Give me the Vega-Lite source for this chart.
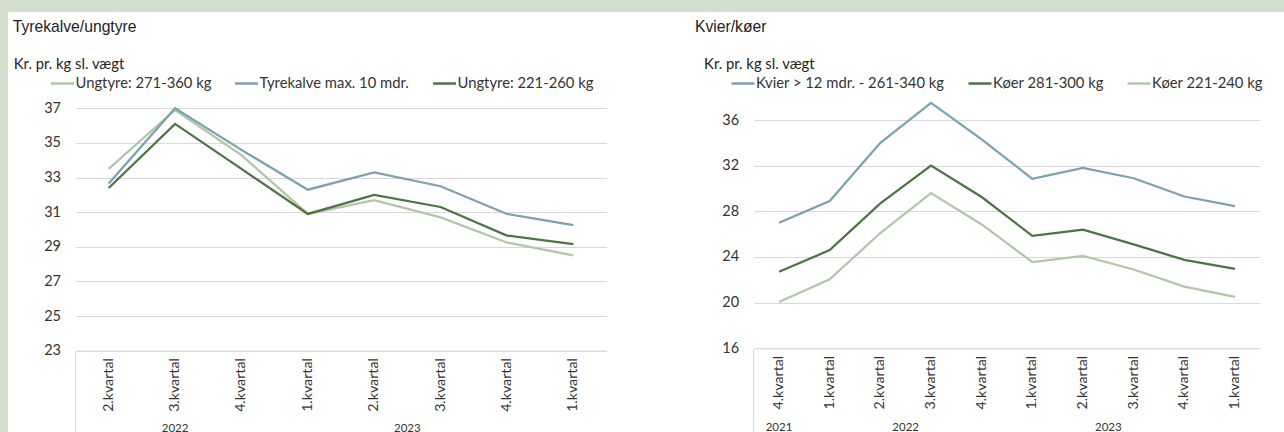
{
  "$schema": "https://vega.github.io/schema/vega-lite/v6.json",
  "background": "#d2dfcd",
  "padding": {"left": 8, "top": 12, "right": 0, "bottom": 0},
  "bounds": "flush",
  "spacing": 0,
  "resolve": {"scale": {"color": "independent"}, "legend": {"color": "independent"}},
  "config": {
    "view": {"fill": "white", "stroke": null},
    "font": "Lato",
    "axis": {"labelFont": "Lato", "titleFont": "Lato"},
    "legend": {"labelFont": "Lato"},
    "text": {"font": "Lato"}
  },
  "datasets": {
    "left": [
      {"serie": "Ungtyre: 271-360 kg", "periode": "2.kvartal 2022", "pris": 33.5},
      {"serie": "Ungtyre: 271-360 kg", "periode": "3.kvartal 2022", "pris": 36.9},
      {"serie": "Ungtyre: 271-360 kg", "periode": "4.kvartal 2022", "pris": 34.3},
      {"serie": "Ungtyre: 271-360 kg", "periode": "1.kvartal 2023", "pris": 30.9},
      {"serie": "Ungtyre: 271-360 kg", "periode": "2.kvartal 2023", "pris": 31.7},
      {"serie": "Ungtyre: 271-360 kg", "periode": "3.kvartal 2023", "pris": 30.7},
      {"serie": "Ungtyre: 271-360 kg", "periode": "4.kvartal 2023", "pris": 29.25},
      {"serie": "Ungtyre: 271-360 kg", "periode": "1.kvartal 2024", "pris": 28.5},
      {"serie": "Tyrekalve max. 10 mdr.", "periode": "2.kvartal 2022", "pris": 32.65},
      {"serie": "Tyrekalve max. 10 mdr.", "periode": "3.kvartal 2022", "pris": 37.0},
      {"serie": "Tyrekalve max. 10 mdr.", "periode": "4.kvartal 2022", "pris": 34.6},
      {"serie": "Tyrekalve max. 10 mdr.", "periode": "1.kvartal 2023", "pris": 32.3},
      {"serie": "Tyrekalve max. 10 mdr.", "periode": "2.kvartal 2023", "pris": 33.3},
      {"serie": "Tyrekalve max. 10 mdr.", "periode": "3.kvartal 2023", "pris": 32.5},
      {"serie": "Tyrekalve max. 10 mdr.", "periode": "4.kvartal 2023", "pris": 30.9},
      {"serie": "Tyrekalve max. 10 mdr.", "periode": "1.kvartal 2024", "pris": 30.25},
      {"serie": "Ungtyre: 221-260 kg", "periode": "2.kvartal 2022", "pris": 32.4},
      {"serie": "Ungtyre: 221-260 kg", "periode": "3.kvartal 2022", "pris": 36.1},
      {"serie": "Ungtyre: 221-260 kg", "periode": "4.kvartal 2022", "pris": 33.5},
      {"serie": "Ungtyre: 221-260 kg", "periode": "1.kvartal 2023", "pris": 30.9},
      {"serie": "Ungtyre: 221-260 kg", "periode": "2.kvartal 2023", "pris": 32.0},
      {"serie": "Ungtyre: 221-260 kg", "periode": "3.kvartal 2023", "pris": 31.3},
      {"serie": "Ungtyre: 221-260 kg", "periode": "4.kvartal 2023", "pris": 29.65},
      {"serie": "Ungtyre: 221-260 kg", "periode": "1.kvartal 2024", "pris": 29.15}
    ],
    "leftYears": [
      {"year": "2022", "at": "3.kvartal 2022", "n": 3},
      {"year": "2023", "at": "3.kvartal 2023", "n": 4}
    ],
    "right": [
      {"serie": "Kvier > 12 mdr. - 261-340 kg", "periode": "4.kvartal 2021", "pris": 27.0},
      {"serie": "Kvier > 12 mdr. - 261-340 kg", "periode": "1.kvartal 2022", "pris": 28.9},
      {"serie": "Kvier > 12 mdr. - 261-340 kg", "periode": "2.kvartal 2022", "pris": 34.0},
      {"serie": "Kvier > 12 mdr. - 261-340 kg", "periode": "3.kvartal 2022", "pris": 37.5},
      {"serie": "Kvier > 12 mdr. - 261-340 kg", "periode": "4.kvartal 2022", "pris": 34.3},
      {"serie": "Kvier > 12 mdr. - 261-340 kg", "periode": "1.kvartal 2023", "pris": 30.85},
      {"serie": "Kvier > 12 mdr. - 261-340 kg", "periode": "2.kvartal 2023", "pris": 31.8},
      {"serie": "Kvier > 12 mdr. - 261-340 kg", "periode": "3.kvartal 2023", "pris": 30.9},
      {"serie": "Kvier > 12 mdr. - 261-340 kg", "periode": "4.kvartal 2023", "pris": 29.3},
      {"serie": "Kvier > 12 mdr. - 261-340 kg", "periode": "1.kvartal 2024", "pris": 28.45},
      {"serie": "Køer 281-300 kg", "periode": "4.kvartal 2021", "pris": 22.7},
      {"serie": "Køer 281-300 kg", "periode": "1.kvartal 2022", "pris": 24.6},
      {"serie": "Køer 281-300 kg", "periode": "2.kvartal 2022", "pris": 28.7},
      {"serie": "Køer 281-300 kg", "periode": "3.kvartal 2022", "pris": 32.0},
      {"serie": "Køer 281-300 kg", "periode": "4.kvartal 2022", "pris": 29.25},
      {"serie": "Køer 281-300 kg", "periode": "1.kvartal 2023", "pris": 25.85},
      {"serie": "Køer 281-300 kg", "periode": "2.kvartal 2023", "pris": 26.4},
      {"serie": "Køer 281-300 kg", "periode": "3.kvartal 2023", "pris": 25.1},
      {"serie": "Køer 281-300 kg", "periode": "4.kvartal 2023", "pris": 23.75},
      {"serie": "Køer 281-300 kg", "periode": "1.kvartal 2024", "pris": 22.95},
      {"serie": "Køer 221-240 kg", "periode": "4.kvartal 2021", "pris": 20.05},
      {"serie": "Køer 221-240 kg", "periode": "1.kvartal 2022", "pris": 22.05},
      {"serie": "Køer 221-240 kg", "periode": "2.kvartal 2022", "pris": 26.1},
      {"serie": "Køer 221-240 kg", "periode": "3.kvartal 2022", "pris": 29.6},
      {"serie": "Køer 221-240 kg", "periode": "4.kvartal 2022", "pris": 26.85},
      {"serie": "Køer 221-240 kg", "periode": "1.kvartal 2023", "pris": 23.55},
      {"serie": "Køer 221-240 kg", "periode": "2.kvartal 2023", "pris": 24.1},
      {"serie": "Køer 221-240 kg", "periode": "3.kvartal 2023", "pris": 22.9},
      {"serie": "Køer 221-240 kg", "periode": "4.kvartal 2023", "pris": 21.4},
      {"serie": "Køer 221-240 kg", "periode": "1.kvartal 2024", "pris": 20.5}
    ],
    "rightYears": [
      {"year": "2021", "at": "4.kvartal 2021", "n": 1},
      {"year": "2022", "at": "3.kvartal 2022", "n": 4},
      {"year": "2023", "at": "3.kvartal 2023", "n": 4}
    ]
  },
  "hconcat": [
    {
      "width": 652,
      "height": 420,
      "title": {"text": "Tyrekalve/ungtyre", "anchor": "start", "frame": "group", "dx": 4.7, "offset": -24, "font": "Liberation Sans", "fontSize": 15.7, "fontWeight": "normal", "color": "#222222"},
      "layer": [
        {
          "data": {"name": "left"},
          "mark": {"type": "line", "strokeWidth": 2.25},
          "encoding": {
            "x": {
              "field": "periode", "type": "nominal", "bandPosition": 0.5,
              "sort": ["2.kvartal 2022", "3.kvartal 2022", "4.kvartal 2022", "1.kvartal 2023", "2.kvartal 2023", "3.kvartal 2023", "4.kvartal 2023", "1.kvartal 2024"],
              "scale": {"type": "band", "domain": ["2.kvartal 2022", "3.kvartal 2022", "4.kvartal 2022", "1.kvartal 2023", "2.kvartal 2023", "3.kvartal 2023", "4.kvartal 2023", "1.kvartal 2024"], "range": [67.5, 598.5], "paddingInner": 0, "paddingOuter": 0},
              "axis": {"title": null, "offset": -81.3, "bandPosition": 0, "labelOffset": 0, "labelAngle": -90, "labelAlign": "right", "labelBaseline": "middle", "labelPadding": -75, "ticks": true, "tickSize": 82, "tickWidth": 1, "tickColor": "#d9d9d9", "tickOpacity": {"condition": {"test": "datum.value === '2.kvartal 2022'", "value": 1}, "value": 0}, "domainColor": "#d9d9d9", "domainWidth": 1, "labelFontSize": 14.2, "labelColor": "#333333", "labelExpr": "split(datum.value, ' ')[0]", "grid": false, "labelOverlap": false}
            },
            "y": {
              "field": "pris", "type": "quantitative",
              "scale": {"domain": [23, 37], "range": [338.7, 96.3], "nice": false, "zero": false},
              "axis": {"values": [23, 25, 27, 29, 31, 33, 35, 37], "offset": -67.5, "grid": true, "gridColor": "#d9d9d9", "gridWidth": 1, "domain": false, "ticks": false, "tickSize": 0, "labelPadding": 15, "labelFontSize": 14.5, "labelColor": "#333333", "labelOverlap": false, "title": "Kr. pr. kg sl. vægt", "titleAngle": 0, "titleAlign": "left", "titleBaseline": "middle", "titleX": -62.2, "titleY": 52.7, "titleFontSize": 14.8, "titleFontWeight": "normal", "titleColor": "#222222"}
            },
            "color": {
              "field": "serie", "type": "nominal",
              "scale": {"domain": ["Ungtyre: 271-360 kg", "Tyrekalve max. 10 mdr.", "Ungtyre: 221-260 kg"], "range": ["#b2c6a9", "#7aa2af", "#4c7543"]},
              "legend": {"orient": "none", "legendX": 41.5, "legendY": 58.4, "direction": "horizontal", "title": null, "symbolType": "stroke", "symbolSize": 529, "symbolStrokeWidth": 2.5, "labelFontSize": 14.8, "labelColor": "#333333", "labelOffset": 0, "columnPadding": 18, "labelLimit": 400, "padding": 0}
            }
          }
        },
        {
          "data": {"name": "leftYears"},
          "transform": [{"filter": "datum.n % 2 == 1"}],
          "mark": {"type": "text", "dy": 81, "baseline": "alphabetic", "align": "center", "fontSize": 11.5, "color": "#333333"},
          "encoding": {
            "x": {"field": "at", "type": "nominal", "bandPosition": 0.5},
            "y": {"datum": 23, "type": "quantitative"},
            "text": {"field": "year"}
          }
        },
        {
          "data": {"name": "leftYears"},
          "transform": [{"filter": "datum.n % 2 == 0"}],
          "mark": {"type": "text", "dy": 81, "baseline": "alphabetic", "align": "center", "fontSize": 11.5, "color": "#333333"},
          "encoding": {
            "x": {"field": "at", "type": "nominal", "bandPosition": 0},
            "y": {"datum": 23, "type": "quantitative"},
            "text": {"field": "year"}
          }
        }
      ]
    },
    {
      "width": 624,
      "height": 420,
      "title": {"text": "Kvier/køer", "anchor": "start", "frame": "group", "dx": 35, "offset": -24, "font": "Liberation Sans", "fontSize": 15.7, "fontWeight": "normal", "color": "#222222"},
      "layer": [
        {
          "data": {"name": "right"},
          "mark": {"type": "line", "strokeWidth": 2.25},
          "encoding": {
            "x": {
              "field": "periode", "type": "nominal", "bandPosition": 0.5,
              "sort": ["4.kvartal 2021", "1.kvartal 2022", "2.kvartal 2022", "3.kvartal 2022", "4.kvartal 2022", "1.kvartal 2023", "2.kvartal 2023", "3.kvartal 2023", "4.kvartal 2023", "1.kvartal 2024"],
              "scale": {"type": "band", "domain": ["4.kvartal 2021", "1.kvartal 2022", "2.kvartal 2022", "3.kvartal 2022", "4.kvartal 2022", "1.kvartal 2023", "2.kvartal 2023", "3.kvartal 2023", "4.kvartal 2023", "1.kvartal 2024"], "range": [93.7, 600.3], "paddingInner": 0, "paddingOuter": 0},
              "axis": {"title": null, "offset": -83.7, "bandPosition": 0, "labelOffset": 0, "labelAngle": -90, "labelAlign": "right", "labelBaseline": "middle", "labelPadding": -77, "ticks": true, "tickSize": 84, "tickWidth": 1, "tickColor": "#d9d9d9", "tickOpacity": {"condition": {"test": "datum.value === '4.kvartal 2021'", "value": 1}, "value": 0}, "domainColor": "#d9d9d9", "domainWidth": 1, "labelFontSize": 14.2, "labelColor": "#333333", "labelExpr": "split(datum.value, ' ')[0]", "grid": false, "labelOverlap": false}
            },
            "y": {
              "field": "pris", "type": "quantitative",
              "scale": {"domain": [16, 36], "range": [336.3, 108], "nice": false, "zero": false},
              "axis": {"values": [16, 20, 24, 28, 32, 36], "offset": -93.7, "grid": true, "gridColor": "#d9d9d9", "gridWidth": 1, "domain": false, "ticks": false, "tickSize": 0, "labelPadding": 15, "labelFontSize": 14.5, "labelColor": "#333333", "labelOverlap": false, "title": "Kr. pr. kg sl. vægt", "titleAngle": 0, "titleAlign": "left", "titleBaseline": "middle", "titleX": -50.1, "titleY": 52.7, "titleFontSize": 14.8, "titleFontWeight": "normal", "titleColor": "#222222"}
            },
            "color": {
              "field": "serie", "type": "nominal",
              "scale": {"domain": ["Kvier > 12 mdr. - 261-340 kg", "Køer 281-300 kg", "Køer 221-240 kg"], "range": ["#7aa2af", "#4c7543", "#b2c6a9"]},
              "legend": {"orient": "none", "legendX": 70, "legendY": 58.4, "direction": "horizontal", "title": null, "symbolType": "stroke", "symbolSize": 529, "symbolStrokeWidth": 2.5, "labelFontSize": 14.8, "labelColor": "#333333", "labelOffset": 0, "columnPadding": 18, "labelLimit": 400, "padding": 0}
            }
          }
        },
        {
          "data": {"name": "rightYears"},
          "transform": [{"filter": "datum.n % 2 == 1"}],
          "mark": {"type": "text", "dy": 83, "baseline": "alphabetic", "align": "center", "fontSize": 11.5, "color": "#333333"},
          "encoding": {
            "x": {"field": "at", "type": "nominal", "bandPosition": 0.5},
            "y": {"datum": 16, "type": "quantitative"},
            "text": {"field": "year"}
          }
        },
        {
          "data": {"name": "rightYears"},
          "transform": [{"filter": "datum.n % 2 == 0"}],
          "mark": {"type": "text", "dy": 83, "baseline": "alphabetic", "align": "center", "fontSize": 11.5, "color": "#333333"},
          "encoding": {
            "x": {"field": "at", "type": "nominal", "bandPosition": 0},
            "y": {"datum": 16, "type": "quantitative"},
            "text": {"field": "year"}
          }
        }
      ]
    }
  ]
}
